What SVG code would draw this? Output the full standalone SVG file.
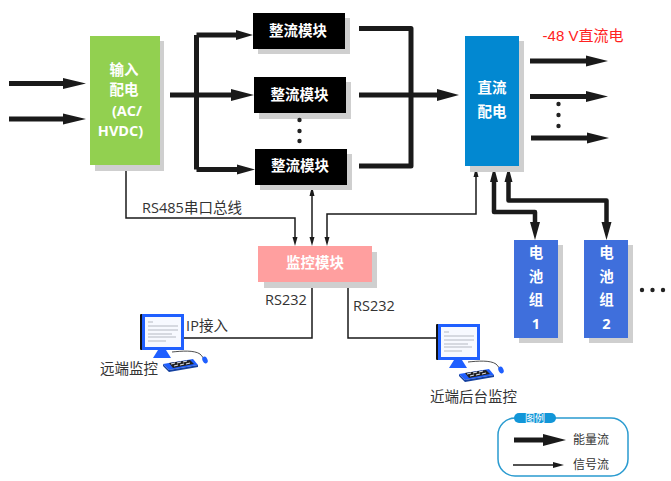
<svg xmlns="http://www.w3.org/2000/svg" width="671" height="481" viewBox="0 0 671 481">
<style>
text{font-family:"Open Sans","Noto Sans CJK SC",sans-serif;text-anchor:middle}
.w{fill:#fff;font-weight:700;font-size:14.500px}
.d{fill:#333;font-size:14.500px}
.sh{fill:#cfcfcf}
.p{fill:none;stroke:#1a1a1a;stroke-width:5;stroke-linejoin:round}
.b{fill:none;stroke:#1a1a1a;stroke-width:4.500;stroke-linejoin:round}
.s{fill:none;stroke:#1a1a1a;stroke-width:1.500}
.a{fill:#1a1a1a}
.dot{fill:#222}
</style>
<defs>
<g id="pc">
<rect x="0" y="0" width="5" height="36" fill="#111" rx="1"/>
<rect x="2" y="0" width="42" height="36" fill="#1f5fff"/>
<rect x="5" y="3" width="36" height="30" fill="#f7f9ff"/>
<g stroke="#b5b9c2" stroke-width="1"><path d="M8 8h5M8 12h30M8 16h30M8 20h24M8 23h28M8 27h18"/></g>
<path d="M18 36h8l5 8H13z" fill="#1f5fff"/>
<path d="M32 38c10-1 22-2 28 2 3 3 3 4 4 5" fill="none" stroke="#222" stroke-width=".8"/>
<ellipse cx="65" cy="46" rx="2.500" ry="3.500" fill="#1f5fff" transform="rotate(-25 65 46)"/>
<path d="M23 50l30-5 5 6-29 5z" fill="#1f5fff"/>
<path d="M23 50l6 6 29-5v2l-29 5-6-6z" fill="#14409f"/>
<path d="M29 49l21-3 4 4-21 4z" fill="#222"/>
<g stroke="#dfe6f5" stroke-width="1"><path d="M31 50l4-1M37 49l4-1M43 48l4-1M34 52l4-1M40 51l4-1M46 50l4-1"/></g>
</g>
</defs>

<g id="connectors">
<!-- power feeds into input distribution -->
<path class="p" d="M9 83.500h56M9 119h56"/>
<path class="a" d="M63 78l23 5.500-23 5.500zM63 113.500l23 5.500-23 5.500z"/>
<!-- distribution to rectifier bank -->
<path class="p" d="M170 95h64M196.500 35h42M196.500 35v134.500M196.500 169.500h44"/>
<path class="a" d="M231 89l23 6-23 6zM236 30l17 5-17 5zM237 164.500l18 5-18 5z"/>
<!-- rectifier outputs to DC distribution -->
<path class="p" d="M359 28.500h52v137.500h-52M359 95h82"/>
<path class="a" d="M437 89l22 6-22 6z"/>
<!-- DC outputs -->
<path class="p" d="M530 61h58M530 96.500h58M531 138h58"/>
<path class="a" d="M586 55.500l22 5.500-22 5.500zM586 91l22 5.500-22 5.500zM587 132.500l22 5.500-22 5.500z"/>
<!-- battery links -->
<path class="b" d="M494 180v32h41v12M508.500 180v20.500h98v25"/>
<path class="a" d="M490 182l4-15 4 15zM504.500 182l4-15 4 15zM530 222h10l-5 18zM601.500 222h10l-5 18z"/>
<!-- signal lines -->
<path class="s" d="M126 165v53h169v20"/>
<path class="a" d="M292.500 237h5l-2.500 9z"/>
<path class="s" d="M312 194v44"/>
<path class="a" d="M309.500 196l2.500-10 2.500 10zM309.500 237h5l-2.500 9z"/>
<path class="s" d="M327 238v-24h149v-38"/>
<path class="a" d="M324.500 237h5l-2.500 9zM473.500 177l2.500-10 2.500 10z"/>
<path class="s" d="M312 282v56h-128M348 282v56h90"/>
</g>

<g id="input-dist">
<rect class="sh" x="95" y="41" width="69" height="130"/>
<rect x="90" y="36" width="70" height="129" fill="#92d050"/>
<text class="w" x="124" y="74.500">输入</text>
<text class="w" x="124" y="95">配电</text>
<text class="w" x="127" y="116">(AC/</text>
<text class="w" x="120.500" y="136">HVDC)</text>
</g>

<g id="rectifier-1">
<rect class="sh" x="258" y="18" width="92" height="36"/>
<rect x="253" y="13" width="92" height="36" fill="#000"/>
<text class="w" x="298" y="35.500">整流模块</text>
</g>
<g id="rectifier-2">
<rect class="sh" x="259" y="82" width="92" height="37"/>
<rect x="254" y="77" width="92" height="36" fill="#000"/>
<text class="w" x="299.500" y="100">整流模块</text>
</g>
<g id="rectifier-3">
<rect class="sh" x="260" y="154" width="92" height="36"/>
<rect x="255" y="149" width="92" height="36" fill="#000"/>
<text class="w" x="300" y="170.500">整流模块</text>
</g>
<g id="rectifier-dots">
<circle class="dot" cx="299.500" cy="120" r="2.200"/><circle class="dot" cx="299.500" cy="131" r="2.200"/><circle class="dot" cx="299.500" cy="141" r="2.200"/>
</g>

<g id="dc-dist">
<rect class="sh" x="470" y="41" width="54" height="131"/>
<rect x="465" y="36" width="54" height="130" fill="#0288d1"/>
<text class="w" x="492" y="93">直流</text>
<text class="w" x="492" y="117">配电</text>
</g>
<text id="output-label" x="583" y="41" fill="#f22" font-size="15" style="font-family:'Liberation Sans','Noto Sans CJK SC',sans-serif">-48 V直流电</text>
<g id="output-dots">
<circle class="dot" cx="558.500" cy="104" r="2.200"/><circle class="dot" cx="558.500" cy="115" r="2.200"/><circle class="dot" cx="558.500" cy="126" r="2.200"/>
</g>

<g id="battery-1">
<rect class="sh" x="519" y="245" width="44" height="98"/>
<rect x="514" y="240" width="44" height="98" fill="#3f6fdc"/>
<text class="w" x="536" y="258">电</text>
<text class="w" x="536" y="282">池</text>
<text class="w" x="536" y="305">组</text>
<text class="w" x="536" y="329">1</text>
</g>
<g id="battery-2">
<rect class="sh" x="589" y="245" width="44" height="98"/>
<rect x="584" y="240" width="44" height="98" fill="#3f6fdc"/>
<text class="w" x="606.500" y="258">电</text>
<text class="w" x="606.500" y="282">池</text>
<text class="w" x="606.500" y="305">组</text>
<text class="w" x="606.500" y="329">2</text>
</g>
<g id="battery-dots">
<circle class="dot" cx="642" cy="290" r="2.200"/><circle class="dot" cx="652.500" cy="290" r="2.200"/><circle class="dot" cx="663" cy="290" r="2.200"/>
</g>

<g id="monitor">
<rect class="sh" x="264" y="252" width="113" height="36"/>
<rect x="258" y="246" width="114" height="36" fill="#ff9f9f"/>
<text class="w" x="315" y="268">监控模块</text>
</g>

<text class="d" x="192" y="213">RS485串口总线</text>
<text class="d" x="286" y="305">RS232</text>
<text class="d" x="374" y="311">RS232</text>
<text class="d" x="207" y="331">IP接入</text>

<g id="remote-pc">
<use href="#pc" transform="translate(140 314)"/>
<text class="d" x="129" y="374">远端监控</text>
</g>
<g id="local-pc">
<use href="#pc" transform="translate(436 324)"/>
<text class="d" x="473.500" y="402">近端后台监控</text>
</g>

<g id="legend">
<rect x="498" y="418" width="130" height="58" rx="17" fill="#fff" stroke="#2a9bd0" stroke-width="1.500"/>
<rect x="514" y="413" width="42" height="10" rx="5" fill="#1296d8"/>
<text x="535" y="422" fill="#fff" font-size="10">图例</text>
<path class="p" d="M514 440h32"/>
<path class="a" d="M543 434l23 6-23 6z"/>
<path class="s" d="M513 465h44"/>
<path class="a" d="M553 462l11 3-11 3z"/>
<text x="591" y="444" fill="#333" font-size="12">能量流</text>
<text x="591" y="469" fill="#333" font-size="12">信号流</text>
</g>
</svg>
